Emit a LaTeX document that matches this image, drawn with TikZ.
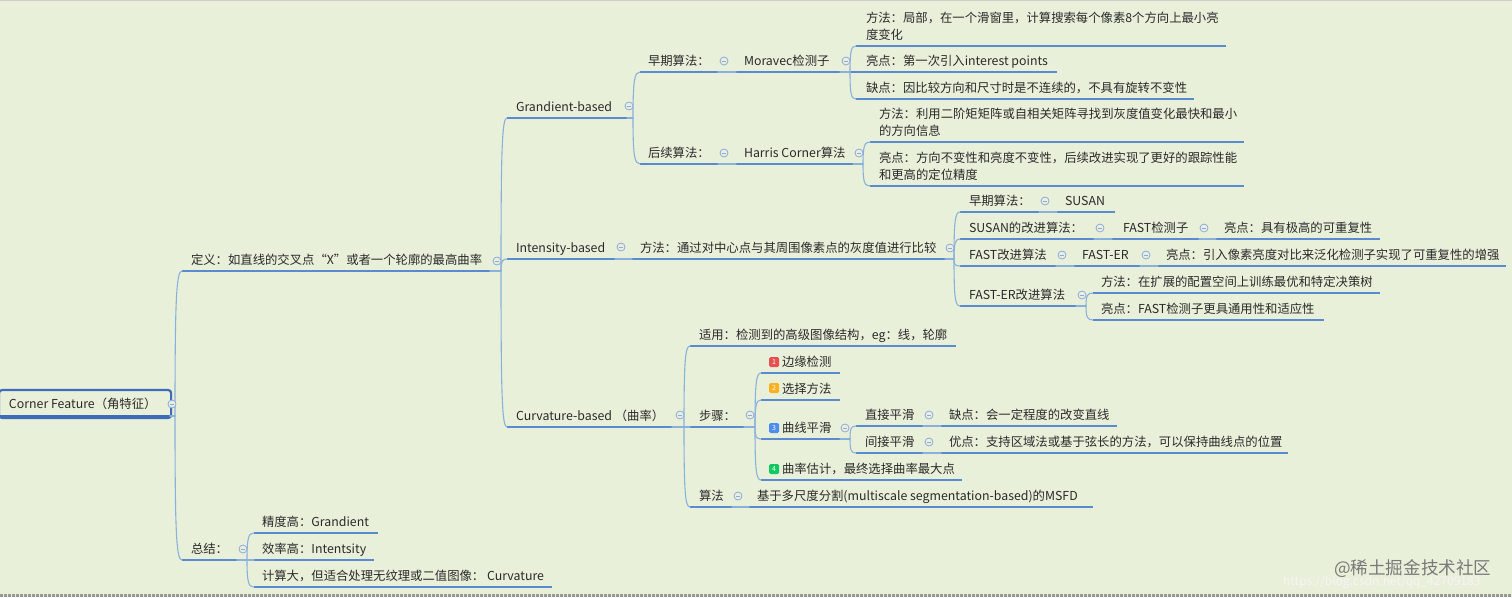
\documentclass[tikz,border=0pt]{standalone}
\usepackage{fontspec}
\setmainfont{Noto Sans CJK SC}
\usetikzlibrary{calc}
\definecolor{bgc}{HTML}{E9F0DA}
\definecolor{ulc}{HTML}{5A8BD0}
\definecolor{cnc}{HTML}{8AB0DC}
\definecolor{txc}{HTML}{2A2A2A}
\definecolor{rootc}{HTML}{3E6CB8}
\definecolor{mkc}{HTML}{8FA8E0}
\definecolor{bred}{HTML}{E85050}
\definecolor{bora}{HTML}{FFB020}
\definecolor{bblu}{HTML}{4D8DF0}
\definecolor{bgre}{HTML}{10C860}
\tikzset{
  lbl/.style={anchor=base west,inner sep=0pt,outer sep=0pt,text=txc,align=left,font=\fontsize{12.35}{17}\selectfont},
  ul/.style={draw=ulc,line width=1.9pt},
  conn/.style={draw=cnc,line width=1.1pt,line cap=round},
  coll/.style={circle,draw=mkc,line width=0.8pt,minimum size=8pt,inner sep=0pt,fill=bgc,
     path picture={\draw[mkc,line width=0.8pt] (path picture bounding box.center) +(-2.2,0) -- +(2.2,0);}},
  rootbox/.style={draw=rootc,line width=2.2pt,rounded corners=3pt,anchor=west,minimum width=172pt,minimum height=28pt,inner sep=0pt},
  badge/.style={rounded corners=1.5pt,minimum size=10pt,inner sep=0pt,text=white,font=\fontsize{7}{7}\selectfont},
}
% name, x0, x1, line y, text x, text
\newcommand{\topic}[6]{%
  \coordinate (#1-l) at (#2,#4);
  \coordinate (#1-r) at (#3,#4);
  \draw[ul] (#1-l) -- (#1-r);
  \node[lbl] (#1) at (#5,#4-7) {#6};
}
% name, x, y
\newcommand{\coll}[3]{\node[coll] (#1) at (#2,#3) {};}
% trunk name, x, parent
\newcommand{\trunk}[3]{\coordinate (#1) at (#2,0 |- #3-r); \draw[conn] (#3-r) -- (#1);}
% trunk, child
\newcommand{\branch}[2]{%
  \draw[conn] let \p1=(#1),\p2=(#2-l) in (\p1) .. controls (\x1,{\y1+0.82*(\y2-\y1)}) and ({\x1+0.2*(\x2-\x1)},\y2) .. (\p2);
}
\newcommand{\link}[2]{\draw[conn] (#1-r) -- (#2-l);}
\begin{document}
\begin{tikzpicture}[x=1pt,y=-1pt]
\useasboundingbox (0,0) rectangle (1512,597);
\fill[bgc] (0,0) rectangle (1512,597);
\draw[black!20,line width=1pt] (0,0.5) -- (1512,0.5);
\draw[gray!80,line width=2.4pt,dash pattern=on 3pt off 1pt] (0,595.5) -- (1512,595.5);

% root
\node[rootbox] (rootframe) at (-2,404) {};
\node[lbl] (root) at (9,408) {Corner Feature（角特征）};
\coordinate (root-r) at (170,416);
\draw[rootc,line width=2pt] (0,416) -- (root-r);

% level 1
\topic{def}{182}{490}{271}{191}{定义：如直线的交叉点“X”或者一个轮廓的最高曲率}
\topic{sum}{182}{237}{560}{191}{总结：}
% level 2
\topic{gra}{507}{627}{118}{516}{Grandient-based}
\topic{int}{507}{615}{259}{516}{Intensity-based}
\topic{cur}{507}{672}{427}{516}{Curvature-based （曲率）}
% gradient
\topic{ga}{640}{718}{72}{648}{早期算法：}
\topic{gm}{736}{840}{72}{744}{Moravec检测子}
\topic{gm1}{856}{1226}{46}{866}{方法：局部，在一个滑窗里，计算搜索每个像素8个方向上最小亮\\度变化}
\topic{gm2}{850}{1057}{72}{866}{亮点：第一次引入interest points}
\topic{gm3}{856}{1194}{99}{866}{缺点：因比较方向和尺寸时是不连续的，不具有旋转不变性}
\topic{gb}{640}{718}{164}{648}{后续算法：}
\topic{gh}{736}{853}{164}{744}{Harris Corner算法}
\topic{gh1}{870}{1244}{142}{879}{方法：利用二阶矩矩阵或自相关矩阵寻找到灰度值变化最快和最小\\的方向信息}
\topic{gh2}{870}{1244}{186}{879}{亮点：方向不变性和亮度不变性，后续改进实现了更好的跟踪性能\\和更高的定位精度}
% intensity
\topic{im}{632}{945}{259}{640}{方法：通过对中心点与其周围像素点的灰度值进行比较}
\topic{i1}{960}{1039}{212}{969}{早期算法：}
\topic{i1a}{1057}{1115}{212}{1065}{SUSAN}
\topic{i2}{960}{1094}{239}{969}{SUSAN的改进算法：}
\topic{i2a}{1112}{1199}{239}{1123}{FAST检测子}
\topic{i2b}{1216}{1380}{239}{1224}{亮点：具有极高的可重复性}
\topic{i3}{960}{1056}{266}{969}{FAST改进算法}
\topic{i3a}{1074}{1140}{266}{1082}{FAST-ER}
\topic{i3b}{1158}{1506}{266}{1166}{亮点：引入像素亮度对比来泛化检测子实现了可重复性的增强}
\topic{i4}{960}{1076}{306}{969}{FAST-ER改进算法}
\topic{i4a}{1093}{1380}{293}{1101}{方法：在扩展的配置空间上训练最优和特定决策树}
\topic{i4b}{1093}{1324}{320}{1101}{亮点：FAST检测子更具通用性和适应性}
% curvature
\topic{c1}{690}{956}{346}{699}{适用：检测到的高级图像结构，eg：线，轮廓}
\topic{c2}{690}{744}{427}{699}{步骤：}
\topic{c3}{690}{732}{507}{699}{算法}
\topic{c3a}{749}{1093}{507}{757}{基于多尺度分割(multiscale segmentation-based)的MSFD}
\topic{s1}{761}{840}{373}{782}{边缘检测}
\topic{s2}{761}{840}{400}{782}{选择方法}
\topic{s3}{761}{840}{439}{782}{曲线平滑}
\topic{s4}{761}{962}{480}{782}{曲率估计，最终选择曲率最大点}
\topic{d1}{856}{923}{426}{865}{直接平滑}
\topic{d1a}{941}{1117}{426}{949}{缺点：会一定程度的改变直线}
\topic{d2}{856}{923}{453}{865}{间接平滑}
\topic{d2a}{941}{1288}{453}{949}{优点：支持区域法或基于弦长的方法，可以保持曲线点的位置}
% summary
\topic{su1}{254}{378}{533}{262}{精度高：Grandient}
\topic{su2}{254}{374}{560}{262}{效率高：Intentsity}
\topic{su3}{254}{552}{587}{262}{计算大，但适合处理无纹理或二值图像： Curvature}

% badges
\node[badge,fill=bred] (b1) at (774,362) {1};
\node[badge,fill=bora] (b2) at (774,388) {2};
\node[badge,fill=bblu] (b3) at (774,428) {3};
\node[badge,fill=bgre] (b4) at (774,469) {4};

% connectors
\trunk{t0}{175}{root}
\branch{t0}{def}\branch{t0}{sum}
\trunk{t1}{501}{def}
\branch{t1}{gra}\branch{t1}{int}\branch{t1}{cur}
\trunk{t2}{633}{gra}
\branch{t2}{ga}\branch{t2}{gb}
\link{ga}{gm}\link{gb}{gh}
\trunk{t3}{850}{gm}
\branch{t3}{gm1}\branch{t3}{gm3}
\draw[conn] (t3) -- (gm2-l);
\trunk{t4}{863}{gh}
\branch{t4}{gh1}\branch{t4}{gh2}
\link{int}{im}
\trunk{t5}{954}{im}
\branch{t5}{i1}\branch{t5}{i2}\branch{t5}{i3}\branch{t5}{i4}
\link{i1}{i1a}\link{i2}{i2a}\link{i2a}{i2b}\link{i3}{i3a}\link{i3a}{i3b}
\trunk{t6}{1086}{i4}
\branch{t6}{i4a}\branch{t6}{i4b}
\trunk{t7}{684}{cur}
\branch{t7}{c1}\branch{t7}{c3}
\draw[conn] (t7) -- (c2-l);
\link{c3}{c3a}
\trunk{t8}{755}{c2}
\branch{t8}{s1}\branch{t8}{s2}\branch{t8}{s3}\branch{t8}{s4}
\trunk{t9}{850}{s3}
\branch{t9}{d1}\branch{t9}{d2}
\link{d1}{d1a}\link{d2}{d2a}
\trunk{t10}{247}{sum}
\branch{t10}{su1}\branch{t10}{su3}
\draw[conn] (t10) -- (su2-l);

% collapse marks
\coll{m0}{172}{404}
\coll{m1}{497}{261}
\coll{m2}{629}{106}
\coll{m3}{724}{61}
\coll{m4}{846}{61}
\coll{m5}{724}{153}
\coll{m6}{859}{153}
\coll{m7}{621}{247}
\coll{m8}{950}{248}
\coll{m9}{1045}{201}
\coll{m10}{1100}{228}
\coll{m11}{1204}{228}
\coll{m12}{1062}{255}
\coll{m13}{1146}{255}
\coll{m14}{1082}{295}
\coll{m15}{680}{415}
\coll{m16}{750}{415}
\coll{m17}{845}{428}
\coll{m18}{929}{415}
\coll{m19}{929}{442}
\coll{m20}{738}{496}
\coll{m21}{243}{549}

% watermarks
\node[lbl,text=gray!95!black,font=\fontsize{17.6}{20}\selectfont] (wm1) at (1334,574) {@稀土掘金技术社区};
\node[lbl,text=white!92!gray,font=\fontsize{12}{14}\selectfont] (wm2) at (1283,585) {https://blog.csdn.net/qq\_42709183};
\end{tikzpicture}
\end{document}
